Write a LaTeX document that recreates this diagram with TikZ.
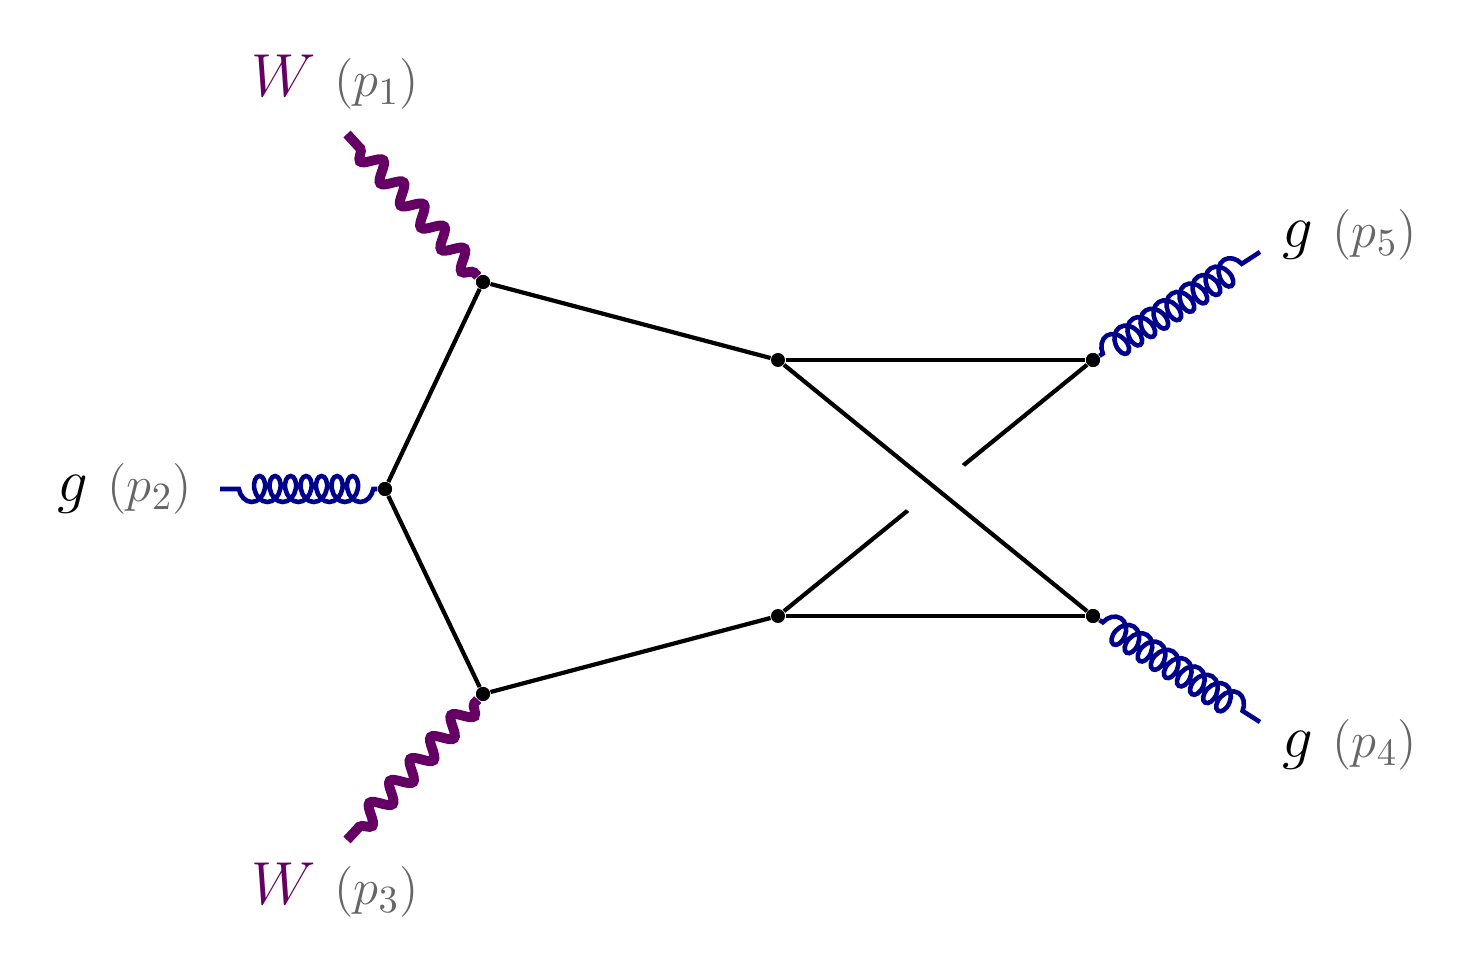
\documentclass[tikz,border=0pt]{standalone}
\usetikzlibrary{decorations.pathmorphing,positioning}
\definecolor{wcol}{RGB}{100,0,100}
\definecolor{gcol}{RGB}{0,0,140}
\tikzset{vertex/.style={circle, fill=black, inner sep=0pt, minimum size=1.4mm}}
\tikzset{fermion/.style={draw=black, line width=1.2pt}}
\tikzset{boson/.style={draw=wcol, line width=2.8pt, decorate,
    decoration={snake, amplitude=0.9mm, segment length=3mm, pre length=0.5mm, post length=1mm}}}
\tikzset{gluon/.style={draw=gcol, line width=1.3pt, decorate,
    decoration={coil, aspect=0.7, amplitude=1.3mm, segment length=1.55mm, pre length=0.4mm, post length=1.4mm}}}
\tikzset{lab/.style={font=\fontsize{18}{21}\selectfont}}
\newcommand{\mom}[1]{{\fontsize{15}{18}\selectfont\textcolor{black!60}{$(p_{#1})$}}}

\begin{document}
\begin{tikzpicture}
  \useasboundingbox (0,0) rectangle (14.74,9.78);

    %%%% vertices
    \node[vertex] (A) at (4.83,6.96) {};
    \node[vertex] (B) at (3.85,4.89) {};
    \node[vertex] (C) at (4.83,2.84) {};
    \node[vertex] (D) at (7.78,6.18) {};
    \node[vertex] (E) at (7.78,3.62) {};
    \node[vertex] (F) at (10.93,6.18) {};
    \node[vertex] (G) at (10.93,3.62) {};

    %%%% external ends
    \coordinate (w1) at (3.47,8.44);
    \coordinate (w3) at (3.47,1.38);
    \coordinate (g2) at (2.20,4.89);
    \coordinate (g5) at (12.60,7.26);
    \coordinate (g4) at (12.60,2.56);

    %%%% labels
    \node[lab] (L1) at (3.35,8.96) {\textcolor{wcol}{$W$} \mom{1}};
    \node[lab] (L2) at (1.25,4.89) {$g$ \mom{2}};
    \node[lab] (L3) at (3.35,0.88) {\textcolor{wcol}{$W$} \mom{3}};
    \node[lab] (L5) at (13.50,7.43) {$g$ \mom{5}};
    \node[lab] (L4) at (13.50,2.33) {$g$ \mom{4}};

    %%%% loop
    \draw[fermion] (A) -- (B);
    \draw[fermion] (B) -- (C);
    \draw[fermion] (A) -- (D);
    \draw[fermion] (C) -- (E);
    \draw[fermion] (D) -- (F);
    \draw[fermion] (E) -- (G);
    \draw[fermion] (E) -- (F);
    \draw[white, line width=0.7cm, shorten <=1.2cm, shorten >=1.2cm] (D) -- (G);
    \draw[fermion] (D) -- (G);

    %%%% external lines
    \draw[boson] (A) -- (w1);
    \draw[boson] (C) -- (w3);
    \draw[gluon] (B) -- (g2);
    \draw[gluon] (F) -- (g5);
    \draw[gluon] (G) -- (g4);

    \node[vertex] at (A) {};
    \node[vertex] at (C) {};
    \node[vertex] at (B) {};
    \node[vertex] at (F) {};
    \node[vertex] at (G) {};
\end{tikzpicture}
\end{document}
